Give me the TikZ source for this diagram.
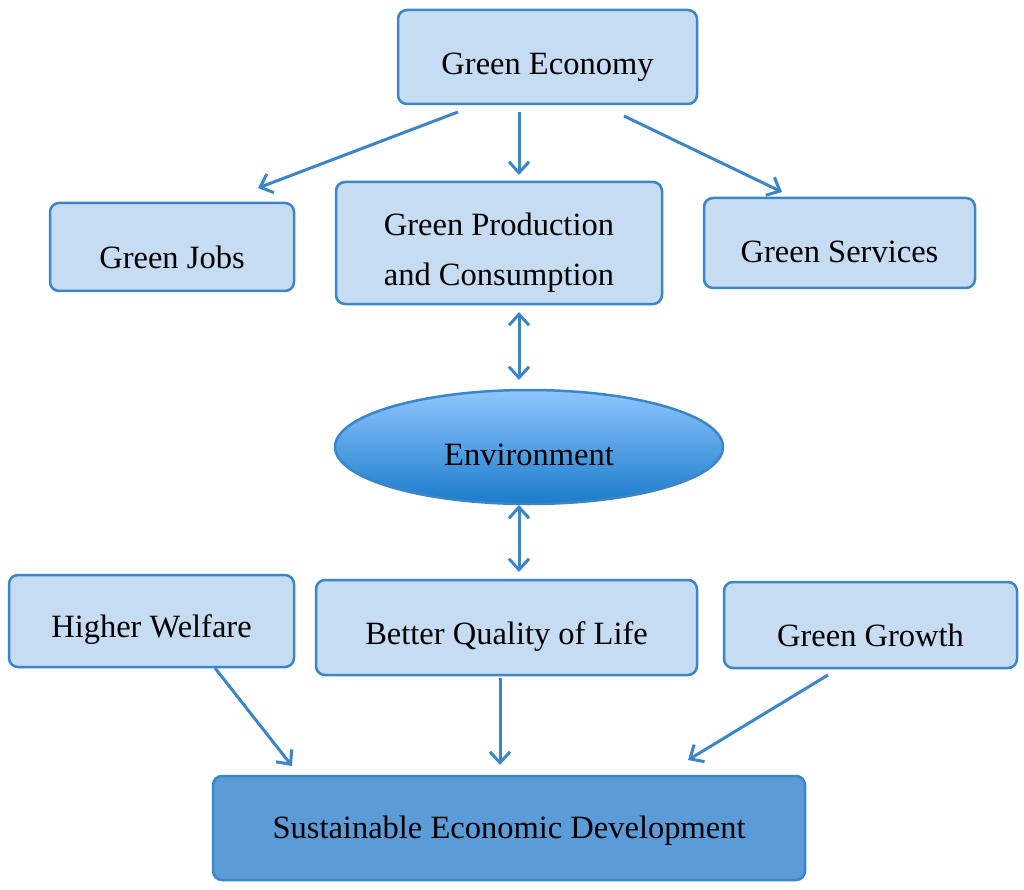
\documentclass[tikz,border=0pt]{standalone}
\usepackage{fontspec}
\setmainfont{Liberation Serif}
\usetikzlibrary{arrows.meta,shapes.geometric}
\definecolor{bfill}{HTML}{C5DCF2}
\definecolor{bdraw}{HTML}{3A86C8}
\definecolor{dfill}{HTML}{5A9BD8}
\definecolor{etop}{HTML}{8EC5FF}
\definecolor{ebot}{HTML}{1B7CCB}
\tikzset{
 x=1pt,y=-1pt,
 box/.style={draw=bdraw,line width=2.5pt,fill=bfill,rounded corners=9pt},
 lbl/.style={font=\fontsize{32.5}{50}\selectfont,align=center},
 arr/.style={draw=bdraw,line width=3pt,-{Straight Barb[length=11pt,width=20pt]}},
 darr/.style={draw=bdraw,line width=3pt,{Straight Barb[length=11pt,width=20pt]}-{Straight Barb[length=11pt,width=20pt]}}
}
\begin{document}
\begin{tikzpicture}
\useasboundingbox (0,0) rectangle (1024,890);
\node[box,minimum width=299pt,minimum height=94pt] (ge) at (547.5,57) {};
\node[lbl] (tge) at (547.5,67) {Green Economy};
\node[box,minimum width=244pt,minimum height=88pt] (gj) at (172,247) {};
\node[lbl] (tgj) at (172,257) {Green Jobs};
\node[box,minimum width=326pt,minimum height=122pt] (gp) at (499,243) {};
\node[lbl] (tgp) at (499,253) {Green Production\\and Consumption};
\node[box,minimum width=271pt,minimum height=90pt] (gs) at (839.5,243) {};
\node[lbl] (tgs) at (839.5,252) {Green Services};
\node[ellipse,draw=bdraw,line width=2.5pt,top color=etop,bottom color=ebot,minimum width=388pt,minimum height=114pt] (env) at (529,447) {};
\node[lbl] (tenv) at (529,455) {Environment};
\node[box,minimum width=285pt,minimum height=92pt] (hw) at (151.5,621) {};
\node[lbl] (thw) at (151.5,630) {Higher Welfare};
\node[box,minimum width=381pt,minimum height=95pt] (bq) at (506.5,627.5) {};
\node[lbl] (tbq) at (506.5,637) {Better Quality of Life};
\node[box,minimum width=293pt,minimum height=86pt] (gg) at (870.5,625) {};
\node[lbl] (tgg) at (870.5,635) {Green Growth};
\node[box,fill=dfill,minimum width=592pt,minimum height=104pt] (sd) at (509,828) {};
\node[lbl] (tsd) at (509,831) {Sustainable Economic Development};
\coordinate (a1) at (458,112); \coordinate (b1) at (258,188);
\coordinate (a2) at (519,112); \coordinate (b2) at (519,175);
\coordinate (a3) at (624,116); \coordinate (b3) at (782,192);
\coordinate (a4) at (519,312); \coordinate (b4) at (519,380);
\coordinate (a5) at (519,505); \coordinate (b5) at (519,572);
\coordinate (a6) at (215,668); \coordinate (b6) at (292,766);
\coordinate (a7) at (500,678); \coordinate (b7) at (500,765);
\coordinate (a8) at (828,675); \coordinate (b8) at (688,760);
\draw[arr] (a1) -- (b1);
\draw[arr] (a2) -- (b2);
\draw[arr] (a3) -- (b3);
\draw[darr] (a4) -- (b4);
\draw[darr] (a5) -- (b5);
\draw[arr] (a6) -- (b6);
\draw[arr] (a7) -- (b7);
\draw[arr] (a8) -- (b8);
\end{tikzpicture}
\end{document}
